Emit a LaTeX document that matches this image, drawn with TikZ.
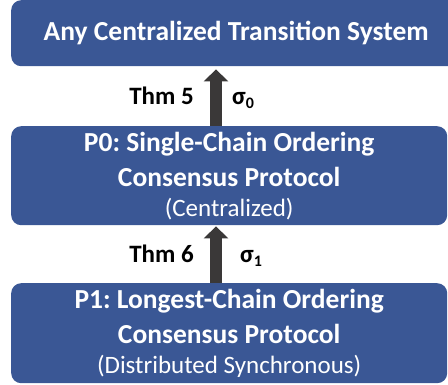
\documentclass[tikz,border=0pt]{standalone}
\usepackage{fontspec}
\setmainfont{Carlito}
\usetikzlibrary{arrows.meta}
\definecolor{boxblue}{HTML}{3A5795}
\definecolor{arrowgray}{HTML}{3A3838}
\tikzset{
  box/.style={fill=boxblue, rounded corners=10pt, text=white, align=center, inner sep=0pt,
    font=\frenchspacing\bfseries\fontsize{27.5}{35}\selectfont},
  bigarrow/.style={arrowgray, line width=12pt, -{Triangle[length=12pt,width=24pt]}},
  lbl/.style={font=\bfseries\fontsize{25}{28}\selectfont, inner sep=0pt}
}
\newcommand{\subnote}[1]{{\mdseries\fontsize{25}{28}\selectfont #1}}
\newcommand{\sigsub}[1]{σ\raisebox{-4pt}{\fontsize{16}{18}\selectfont #1}}
\begin{document}
\begin{tikzpicture}[x=1pt,y=-1pt]
\useasboundingbox (0,0) rectangle (448,385);
\begin{scope}
\clip (0,0) rectangle (448,385);
\node[box, minimum width=450pt, minimum height=66pt, anchor=north west] (top) at (11,0)
  {Any Centralized Transition System};
\end{scope}
\node[box, minimum width=436pt, minimum height=99pt, anchor=north west] (p0) at (11,126)
  {P0: Single-Chain Ordering\\
   Consensus Protocol\\[-5pt]
   \subnote{(Centralized)}};
\node[box, minimum width=436pt, minimum height=100pt, anchor=north west] (p1) at (11,283)
  {P1: Longest-Chain Ordering\\
   Consensus Protocol\\[-5pt]
   \subnote{(Distributed Synchronous)}};
\draw[bigarrow, shorten >=3pt] (p0.north -| 216,0) -- (top.south -| 216,0);
\draw[bigarrow, shorten >=1pt] (p1.north -| 216,0) -- (p0.south -| 216,0);
\node[lbl, anchor=base east] (t5) at (194,105) {Thm 5};
\node[lbl, anchor=base west] (s0) at (232,105) {\sigsub{0}};
\node[lbl, anchor=base east] (t6) at (194,263) {Thm 6};
\node[lbl, anchor=base west] (s1) at (240,263) {\sigsub{1}};
\end{tikzpicture}
\end{document}
